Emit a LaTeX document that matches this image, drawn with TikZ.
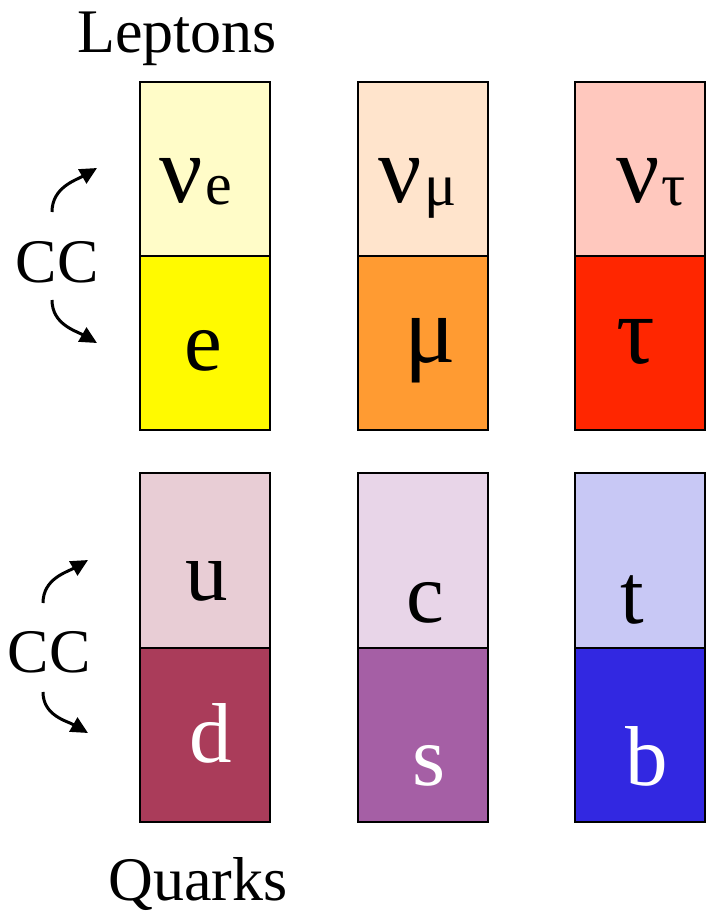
\documentclass[tikz,border=0pt]{standalone}
\usepackage{fontspec}
\setmainfont{Liberation Serif}
\usetikzlibrary{arrows.meta}

\definecolor{nuecol}{RGB}{255,252,200}
\definecolor{ecol}{RGB}{255,250,0}
\definecolor{numucol}{RGB}{255,228,204}
\definecolor{mucol}{RGB}{255,155,50}
\definecolor{nutaucol}{RGB}{255,200,190}
\definecolor{taucol}{RGB}{255,38,0}
\definecolor{ucol}{RGB}{232,205,213}
\definecolor{dcol}{RGB}{170,60,90}
\definecolor{ccol}{RGB}{232,213,232}
\definecolor{scol}{RGB}{165,95,165}
\definecolor{tcol}{RGB}{200,200,245}
\definecolor{bcol}{RGB}{50,40,225}

\newcommand{\partsize}{\fontsize{85}{85}\selectfont}
\newcommand{\greeksize}{\fontsize{96}{96}\selectfont}
\newcommand{\subsize}{\fontsize{60}{60}\selectfont}
\newcommand{\lblsize}{\fontsize{62}{62}\selectfont}

\begin{document}
\begin{tikzpicture}[x=1pt,y=-1pt,
		cell/.style={draw=black,line width=2pt},
		txt/.style={anchor=base,inner sep=0pt},
		ccarrow/.style={line width=3pt,-{Triangle[length=17pt,width=16pt]}}]
		\useasboundingbox (0,0) rectangle (706,914);
		% leptons
		\draw[cell,fill=nuecol] (140,82) rectangle (270,256);
		\draw[cell,fill=ecol] (140,256) rectangle (270,430);
		\draw[cell,fill=numucol] (358,82) rectangle (488,256);
		\draw[cell,fill=mucol] (358,256) rectangle (488,430);
		\draw[cell,fill=nutaucol] (575,82) rectangle (705,256);
		\draw[cell,fill=taucol] (575,256) rectangle (705,430);
		% quarks
		\draw[cell,fill=ucol] (140,473) rectangle (270,648);
		\draw[cell,fill=dcol] (140,648) rectangle (270,822);
		\draw[cell,fill=ccol] (358,473) rectangle (488,648);
		\draw[cell,fill=scol] (358,648) rectangle (488,822);
		\draw[cell,fill=tcol] (575,473) rectangle (705,648);
		\draw[cell,fill=bcol] (575,648) rectangle (705,822);

		\node[txt] (nue) at (181,202) {\greeksize ν};
		\node[txt,anchor=base west] (nuesub) at (205,204) {\subsize e};
		\node[txt] (e) at (203,370) {\partsize e};
		\node[txt] (numu) at (400,202) {\greeksize ν};
		\node[txt,anchor=base west] (numusub) at (424,205) {\subsize μ};
		\node[txt] (mu) at (430,362) {\greeksize μ};
		\node[txt] (nutau) at (638,202) {\greeksize ν};
		\node[txt,anchor=base west] (nutausub) at (661,205) {\subsize τ};
		\node[txt] (tau) at (636,363) {\greeksize τ};

		\node[txt] (u) at (207,600) {\partsize u};
		\node[txt,white] (d) at (211,762) {\partsize d};
		\node[txt] (c) at (425,622) {\partsize c};
		\node[txt,white] (s) at (429,785) {\partsize s};
		\node[txt] (t) at (632,623) {\partsize t};
		\node[txt,white] (b) at (647,785) {\partsize b};

		\node[txt] (leptons) at (177,52) {\lblsize Leptons};
		\node[txt] (quarks) at (198,900) {\lblsize Quarks};
		\node[txt] (cclep) at (57,282) {\lblsize CC};
		\node[txt] (ccqua) at (49,672) {\lblsize CC};

		\coordinate (lupS) at (52,212);
		\coordinate (lupE) at (97,168);
		\coordinate (ldnS) at (52,300);
		\coordinate (ldnE) at (97,343);
		\coordinate (qupS) at (43,603);
		\coordinate (qupE) at (88,560);
		\coordinate (qdnS) at (43,692);
		\coordinate (qdnE) at (88,733);
		\draw[ccarrow] (lupS) to[out=90,in=210] (lupE);
		\draw[ccarrow] (ldnS) to[out=-90,in=150] (ldnE);
		\draw[ccarrow] (qupS) to[out=90,in=210] (qupE);
		\draw[ccarrow] (qdnS) to[out=-90,in=150] (qdnE);
\end{tikzpicture}
\end{document}
